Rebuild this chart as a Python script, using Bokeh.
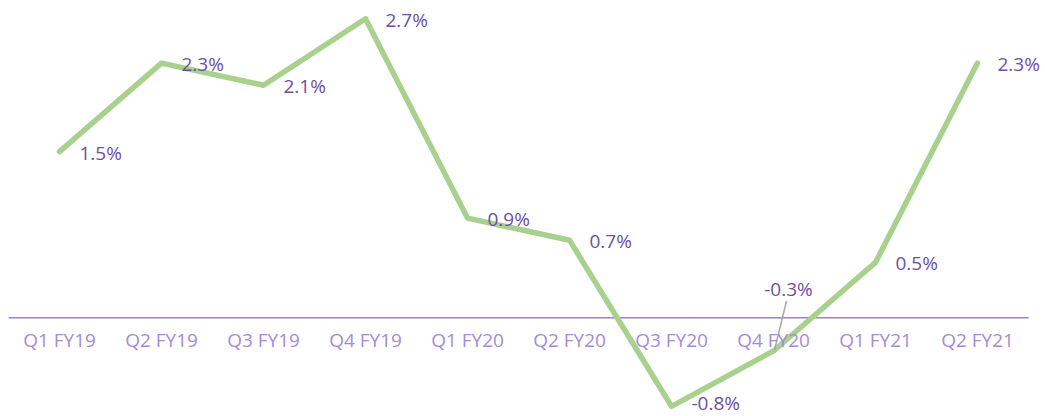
from bokeh.plotting import figure
from bokeh.models import ColumnDataSource, Range1d, LabelSet, FixedTicker
from bokeh.core.properties import value
from bokeh.embed import file_html
from bokeh.resources import INLINE

quarters = ["Q1 FY19", "Q2 FY19", "Q3 FY19", "Q4 FY19", "Q1 FY20",
            "Q2 FY20", "Q3 FY20", "Q4 FY20", "Q1 FY21", "Q2 FY21"]
growth = [1.5, 2.3, 2.1, 2.7, 0.9, 0.7, -0.8, -0.3, 0.5, 2.3]
labels = [f"{v:.1f}%" for v in growth]

LINE = "#a9d18e"
LABEL = "#6e4fa3"
TICK = "#a58bdc"
AXIS = "#9b7fd4"
PX_PER_UNIT = 111.0
SLOT_PX = 102.0
EXTRA_RIGHT_PX = 14

n = len(quarters)
xs = list(range(n))

p = figure(x_range=Range1d(-0.5, n - 0.5 + EXTRA_RIGHT_PX / SLOT_PX),
           y_range=Range1d(-0.892, 2.793),
           width=1042, height=416, output_backend="svg", toolbar_location=None,
           min_border_left=8, min_border_right=0, min_border_top=8, min_border_bottom=0)
p.outline_line_color = None
p.background_fill_color = "white"
p.border_fill_color = "white"
p.grid.visible = False
p.yaxis.visible = False

p.xaxis.fixed_location = 0
p.xaxis.ticker = FixedTicker(ticks=xs)
p.xaxis.major_label_overrides = {i: q for i, q in zip(xs, quarters)}
p.xaxis.axis_line_color = None
p.xaxis.major_tick_line_color = None
p.xaxis.minor_tick_line_color = None
p.xaxis.major_label_text_color = TICK
p.xaxis.major_label_text_font = "Open Sans"
p.xaxis.major_label_text_font_size = "19px"
p.xaxis.major_label_standoff = 3

# zero baseline spanning the category slots
p.segment(x0=[-0.5], y0=[0], x1=[n - 0.5], y1=[0], line_color=AXIS, line_width=1.5)

src = ColumnDataSource(dict(x=xs, y=growth))
p.line("x", "y", source=src, line_color=LINE, line_width=5.5,
       line_join="round", line_cap="round")

idx_main = [i for i in xs if i != 7]
yoff = [3 if growth[i] == min(growth) else -1 for i in idx_main]
main = ColumnDataSource(dict(x=[xs[i] for i in idx_main],
                             y=[growth[i] for i in idx_main],
                             t=[labels[i] for i in idx_main],
                             yo=yoff))
p.add_layout(LabelSet(x="x", y="y", text="t", source=main, x_offset=20, y_offset="yo",
                      text_color=LABEL, text_font=value("Open Sans"), text_font_size="19px",
                      text_align="left", text_baseline="middle"))

# Q4 FY20 label placed above with a leader line
lead = ColumnDataSource(dict(x=[xs[7]], y=[growth[7]], t=[labels[7]]))
p.add_layout(LabelSet(x="x", y="y", text="t", source=lead, x_offset=15, y_offset=62,
                      text_color=LABEL, text_font=value("Open Sans"), text_font_size="19px",
                      text_align="center", text_baseline="middle"))
p.segment(x0=[xs[7] + 13 / SLOT_PX], y0=[growth[7] + 50 / PX_PER_UNIT],
          x1=[xs[7] + 1 / SLOT_PX], y1=[growth[7] + 1 / PX_PER_UNIT],
          line_color="#a6a6a6", line_width=1.5)

open("out.html", "w").write(file_html(p, INLINE))
